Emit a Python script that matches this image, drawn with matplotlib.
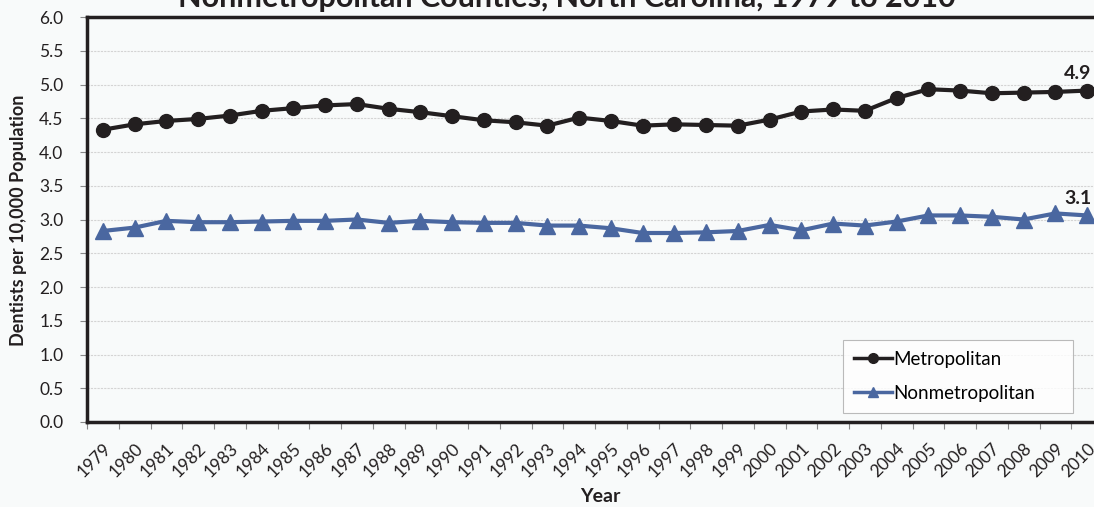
import matplotlib
matplotlib.use("Agg")
import matplotlib.pyplot as plt
import numpy as np

years = list(range(1979, 2011))
metro = [4.33, 4.41, 4.46, 4.49, 4.54, 4.61, 4.65, 4.69, 4.71, 4.64, 4.59, 4.53,
         4.47, 4.44, 4.39, 4.51, 4.46, 4.39, 4.41, 4.40, 4.39, 4.48, 4.60, 4.63,
         4.61, 4.80, 4.93, 4.91, 4.87, 4.88, 4.89, 4.91]
nonmetro = [2.83, 2.88, 2.98, 2.96, 2.96, 2.97, 2.98, 2.98, 3.00, 2.95, 2.98, 2.96,
            2.95, 2.95, 2.91, 2.91, 2.87, 2.80, 2.80, 2.81, 2.83, 2.92, 2.84, 2.94,
            2.91, 2.97, 3.06, 3.06, 3.04, 3.00, 3.09, 3.06]
series_names = ["Metropolitan", "Nonmetropolitan"]
end_labels = ["4.9", "3.1"]
yticks = [0.0, 0.5, 1.0, 1.5, 2.0, 2.5, 3.0, 3.5, 4.0, 4.5, 5.0, 5.5, 6.0]

plt.rcParams['font.family'] = ['Lato', 'DejaVu Sans']
W, H = 1094, 507
bg = '#f8fafa'
fig = plt.figure(figsize=(W / 100, H / 100), dpi=100, facecolor=bg)
ax = fig.add_axes([87 / W, (H - 422) / H, (1103 - 87) / W, (422 - 17) / H])
ax.set_facecolor(bg)

x = np.arange(len(years))
black = '#231f20'
blue = '#4a67a0'
ax.plot(x, metro, color=black, lw=3, marker='o', ms=10, label=series_names[0],
        markeredgecolor=black, zorder=3)
ax.plot(x, nonmetro, color=blue, lw=3, marker='^', ms=11, label=series_names[1],
        markeredgecolor=blue, zorder=3)

ax.text(x[-1] - 0.3, metro[-1] + 0.12, end_labels[0], fontsize=14, fontweight='bold',
        color=black, ha='center', va='bottom')
ax.text(x[-1] - 0.3, nonmetro[-1] + 0.12, end_labels[1], fontsize=14, fontweight='bold',
        color=black, ha='center', va='bottom')

ax.set_xlim(-0.5, len(years) - 0.5)
ax.set_ylim(0, 6.0)
ax.set_yticks(yticks)
ax.set_yticklabels([f"{v:.1f}" for v in yticks], fontsize=12.5, color=black)
ax.yaxis.grid(True, color='#d4d4d4', lw=0.8, ls=(0, (2, 1)))
ax.set_axisbelow(True)

ax.set_xticks(x)
ax.set_xticklabels([str(y) for y in years], rotation=45, ha='right', va='top',
                   rotation_mode='anchor', fontsize=12.5, color=black)
ax.tick_params(axis='x', length=0, pad=13)
ax.set_xticks(np.arange(-0.5, len(years), 1.0), minor=True)
ax.tick_params(axis='x', which='minor', length=5, color='#888888', width=0.8)
ax.tick_params(axis='y', length=5, color='#888888', width=0.8, pad=12)

for s in ['left', 'bottom', 'top']:
    ax.spines[s].set_color(black)
    ax.spines[s].set_linewidth(2.5)
ax.spines['right'].set_visible(False)

fig.text(19 / W, (H - 220) / H, "Dentists per 10,000 Population", fontsize=13, fontweight='bold',
         color=black, ha='center', va='center', rotation=90)
fig.text(600 / W, (H - 497) / H, "Year", fontsize=14, fontweight='bold', color=black,
         ha='center', va='center')
fig.text(567 / W, (H - 7) / H, "Nonmetropolitan Counties, North Carolina, 1979 to 2010",
         fontsize=22, fontweight='bold', color=black, ha='center', va='baseline')

leg = ax.legend(loc='lower left', bbox_to_anchor=((843 - 87) / (1103 - 87), (422 - 413) / (422 - 17),
                                                    (1073 - 843) / (1103 - 87), (413 - 333) / (422 - 17)),
                mode='expand', fontsize=13.5, frameon=True, fancybox=False, handlelength=2.0,
                handletextpad=0.1, labelspacing=0.9, borderpad=0.6, borderaxespad=0)
leg.get_frame().set_edgecolor('#aaaaaa')
leg.get_frame().set_facecolor('white')
leg.get_frame().set_linewidth(0.8)
for h in leg.legend_handles:
    h.set_markersize(7)
    h.set_linewidth(2.5)

fig.savefig("out.png", dpi=100, facecolor=bg)
